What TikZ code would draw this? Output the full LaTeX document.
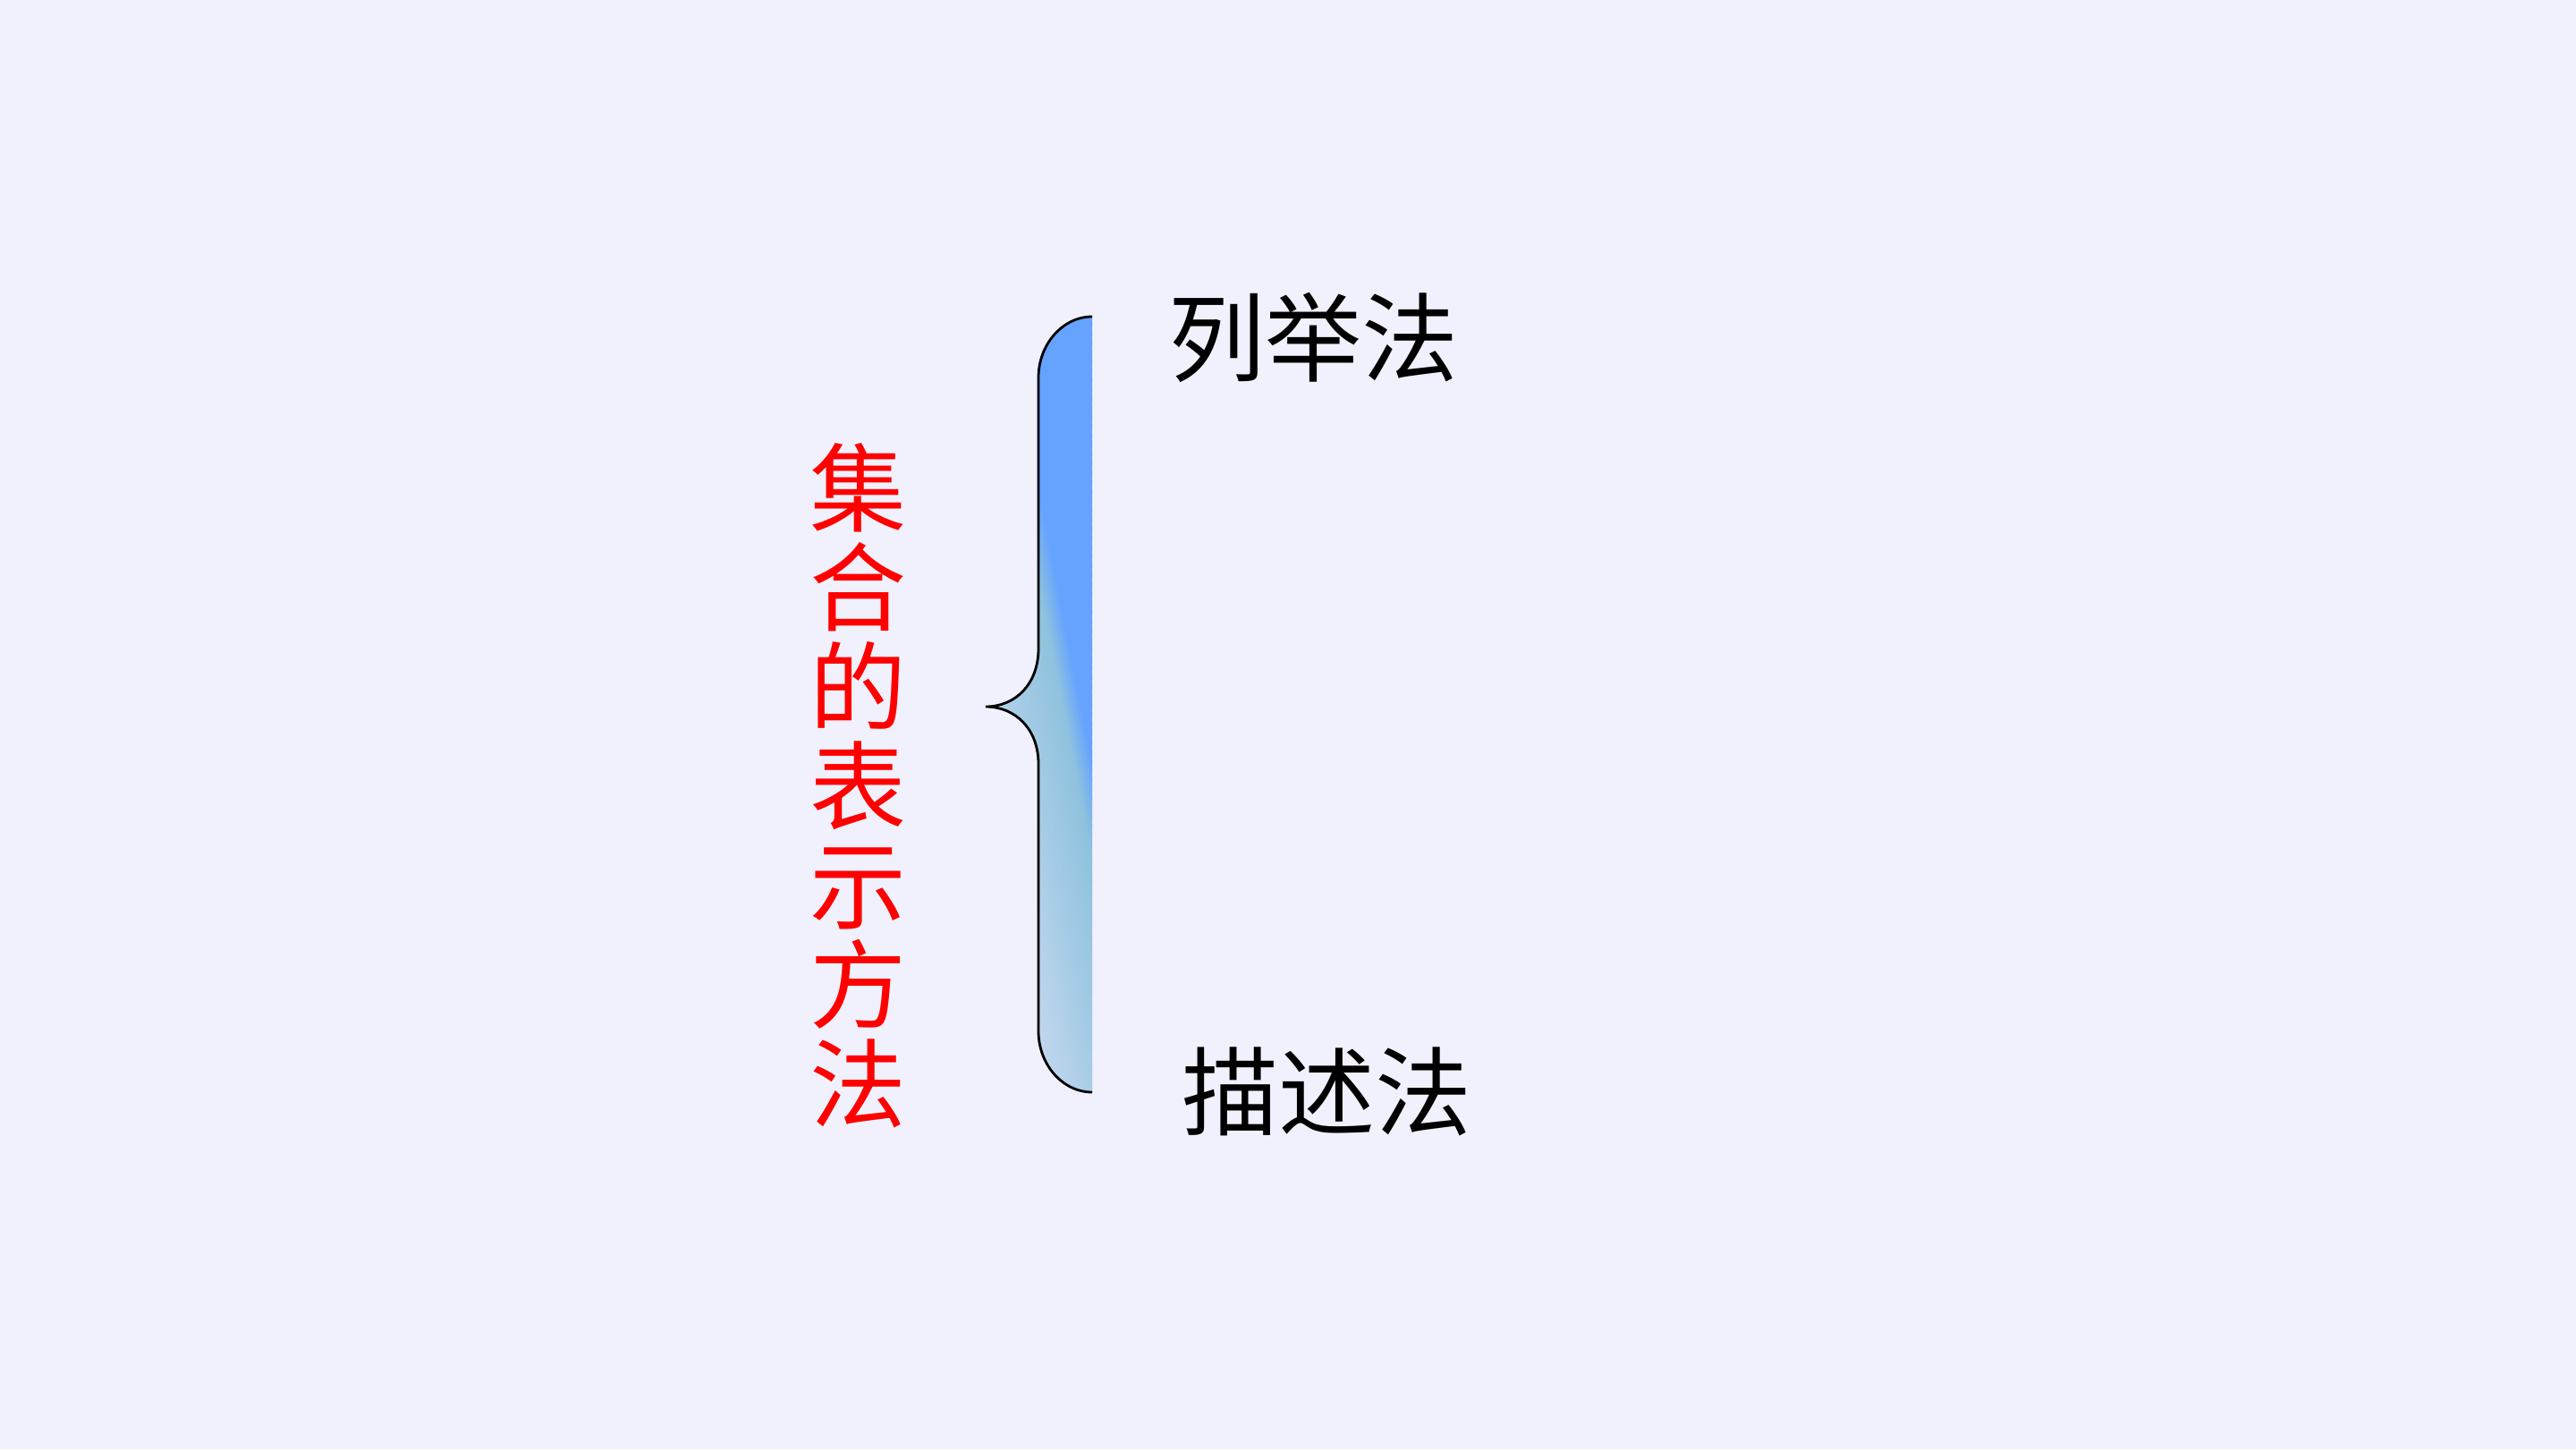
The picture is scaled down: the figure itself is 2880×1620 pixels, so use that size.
\documentclass[tikz,border=0pt]{standalone}
\usepackage{fontspec}
\newfontfamily\cjk{Noto Sans CJK SC}
\definecolor{bg}{RGB}{240,241,252}
\definecolor{lightb}{RGB}{192,214,237}
\definecolor{midb}{RGB}{142,194,222}
\definecolor{blueb}{RGB}{102,163,255}
\definecolor{textred}{RGB}{255,0,0}
\tikzset{
  txt/.style={font={\cjk\fontsize{27}{27.75}\selectfont}, inner sep=0pt, text=black},
  braceline/.style={line width=0.7pt, draw=black}
}
\begin{document}
\begin{tikzpicture}[x=0.25pt,y=0.25pt]
\fill[bg] (0,0) rectangle (2880,1620);
\useasboundingbox (0,0) rectangle (2880,1620);
% gradient fill of the brace
\begin{scope}
\clip (1221,1266) .. controls (1188,1266) and (1161,1235) .. (1161,1198) -- (1161,895) .. controls (1161,855) and (1135,830) .. (1102,830) .. controls (1135,830) and (1161,805) .. (1161,766) -- (1161,467) .. controls (1161,430) and (1188,399) .. (1221,399) -- cycle;
\foreach \t in {-100,-98,...,160} {
  \pgfmathsetmacro\p{\t<-71 ? 0 : (\t<25 ? (\t+71)/96*100 : 100)}
  \pgfmathsetmacro\r{\t<25 ? 100 : (\t<45 ? 100-(\t-25)/20*100 : 0)}
  \colorlet{sc}{midb!\p!lightb!\r!blueb}
  \fill[sc, rotate around={11.1:(1161.5,832.5)}] ({1161.5+\t},232.5) rectangle +(2.6,1200);
}
\end{scope}
% brace outline
\draw[braceline] (1221,1266) .. controls (1188,1266) and (1161,1235) .. (1161,1198) -- (1161,895) .. controls (1161,855) and (1135,830) .. (1102,830) .. controls (1135,830) and (1161,805) .. (1161,766) -- (1161,467) .. controls (1161,430) and (1188,399) .. (1221,399);
% texts
\node[txt] (lieju) at (1468,1243) {列举法};
\node[txt] (miaoshu) at (1483,400) {描述法};
\node[txt, text=textred, align=center] (title) at (959,742) {集\\合\\的\\表\\示\\方\\法};
\end{tikzpicture}
\end{document}
